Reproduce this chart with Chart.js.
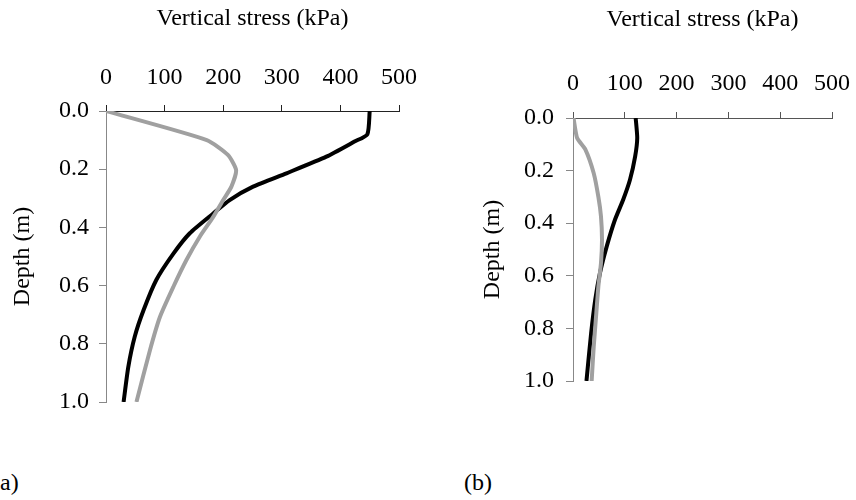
<!DOCTYPE html>
<html>
<head>
<meta charset="utf-8">
<script src="https://cdn.jsdelivr.net/npm/chart.js@4.4.1/dist/chart.umd.min.js"></script>
<style>
  body { margin: 0; background: #fff; width: 856px; height: 500px; overflow: hidden; position: relative; }
  .panel { position: absolute; top: 0; }
  .tag { position: absolute; font-family: "Liberation Serif", serif; font-size: 24px; color: #000; }
</style>
</head>
<body>
<div class="panel" style="left:0;width:430px;height:440px"><canvas id="chartA"></canvas></div>
<div class="panel" style="left:430px;width:434px;height:440px"><canvas id="chartB"></canvas></div>
<div class="tag" style="left:0px;top:469px">a)</div>
<div class="tag" style="left:464px;top:469px">(b)</div>
<script>
// panel (a)
const depthA_black = [0, 0.08, 0.105, 0.157, 0.214, 0.26, 0.306, 0.352, 0.42, 0.49, 0.58, 0.685, 0.776, 0.88, 1.0];
const stressA_black = [450, 446, 424, 376, 308, 251, 211, 183, 143, 115, 86, 64, 49, 38, 30];
const depthA_grey = [0, 0.1, 0.151, 0.203, 0.26, 0.306, 0.364, 0.432, 0.513, 0.604, 0.708, 0.822, 1.0];
const stressA_grey = [0, 172, 208, 222, 214, 200, 183, 160, 137, 115, 92, 75, 52];

// panel (b)
const depthB_black = [0, 0.076, 0.146, 0.235, 0.31, 0.387, 0.489, 0.59, 0.69, 0.818, 1.0];
const stressB_black = [121, 124, 120, 110, 97, 81, 65, 52, 43, 35, 26];
const depthB_grey = [0, 0.076, 0.12, 0.21, 0.3, 0.374, 0.463, 0.552, 0.64, 0.742, 0.87, 1.0];
const stressB_grey = [1, 8, 24, 40, 49, 54, 56, 54, 49, 45, 40, 36];

const xTitle = 'Vertical stress (kPa)';
const yTitle = 'Depth (m)';
const serif = "'Liberation Serif', 'Times New Roman', serif";
const fontSize = 24;

Chart.defaults.font.family = serif;

function toPoints(xs, ys) {
  return xs.map((v, i) => ({ x: v, y: ys[i] }));
}

function makeChart(id, blackPts, greyPts, box) {
  const ctx = document.getElementById(id).getContext('2d');
  return new Chart(ctx, {
    type: 'scatter',
    data: {
      datasets: [
        {
          data: greyPts,
          showLine: true,
          borderColor: '#a0a0a0',
          borderWidth: 4,
          pointRadius: 0,
          tension: 0.2
        },
        {
          data: blackPts,
          showLine: true,
          borderColor: '#000000',
          borderWidth: 4,
          pointRadius: 0,
          tension: 0.2
        }
      ]
    },
    options: {
      responsive: true,
      maintainAspectRatio: false,
      animation: false,
      layout: { padding: { left: 0, top: 0, right: box.right, bottom: box.bottom } },
      plugins: { legend: { display: false }, tooltip: { enabled: false } },
      scales: {
        x: {
          type: 'linear',
          position: 'top',
          min: 0,
          max: 500,
          afterFit: s => { s.height = box.top; },
          ticks: { stepSize: 100, color: '#000', padding: box.xPad, font: { family: serif, size: fontSize } },
          grid: { drawOnChartArea: false, drawTicks: true, tickLength: 6, color: box.xColor },
          border: { display: true, color: box.xColor, width: 1 },
          title: { display: true, text: xTitle, color: '#000', padding: { top: box.xTitleTop, bottom: 0 }, font: { family: serif, size: fontSize } }
        },
        y: {
          type: 'linear',
          reverse: true,
          min: 0,
          max: 1,
          afterFit: s => { s.width = box.left; },
          ticks: { stepSize: 0.2, color: '#000', padding: box.yPad, font: { family: serif, size: fontSize },
                   callback: v => v.toFixed(1) },
          grid: { drawOnChartArea: false, drawTicks: true, tickLength: 7, color: '#888' },
          border: { display: true, color: '#888', width: 1 },
          title: { display: true, text: yTitle, color: '#000', padding: { top: box.yTitleTop, bottom: 0 }, font: { family: serif, size: fontSize } }
        }
      }
    }
  });
}

makeChart('chartA', toPoints(stressA_black, depthA_black), toPoints(stressA_grey, depthA_grey),
  { left: 106, top: 111, right: 31, bottom: 38, xPad: 13, yPad: 10, xTitleTop: 4, yTitleTop: 8, xColor: '#222' });
makeChart('chartB', toPoints(stressB_black, depthB_black), toPoints(stressB_grey, depthB_grey),
  { left: 143, top: 118, right: 31, bottom: 59, xPad: 14, yPad: 12, xTitleTop: 5, yTitleTop: 48, xColor: '#555' });
</script>
</body>
</html>
